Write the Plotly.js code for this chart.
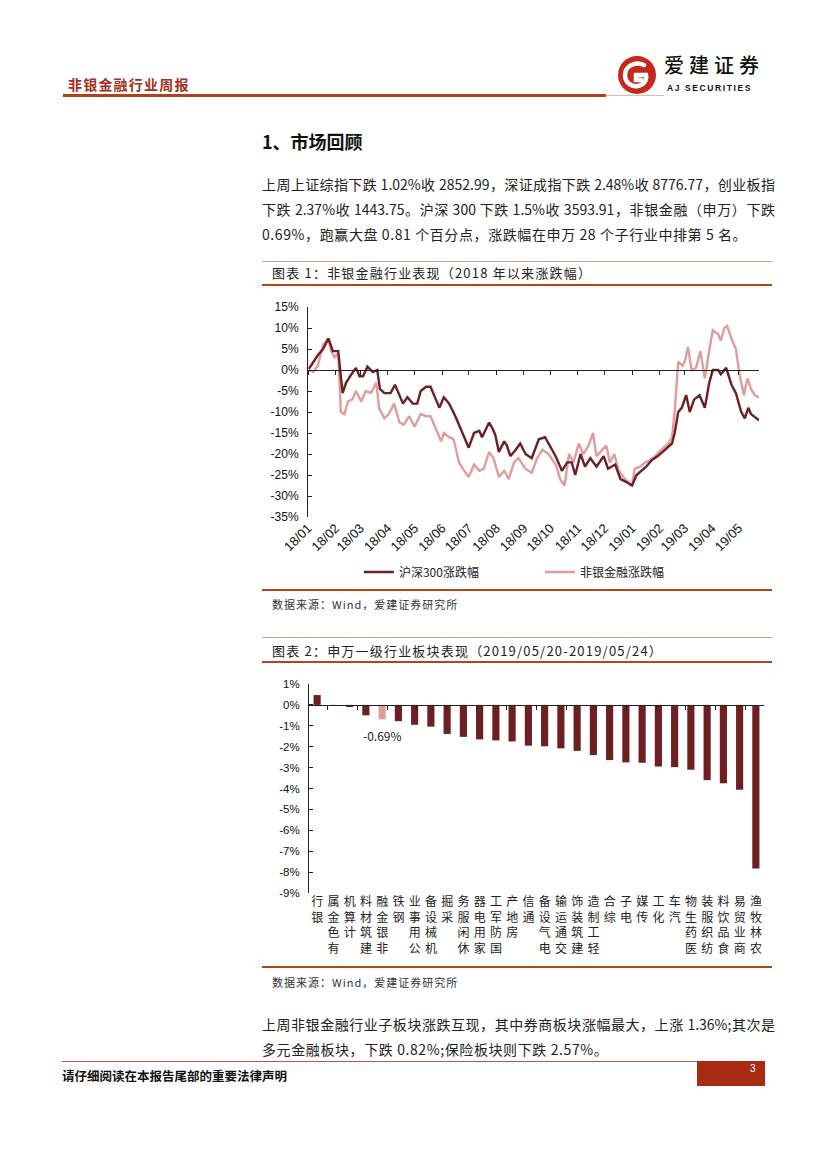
<!DOCTYPE html>
<html>
<head>
<meta charset="utf-8">
<script src="https://cdn.plot.ly/plotly-3.0.1.min.js"></script>
<style>
  html, body { margin:0; padding:0; background:#fff; }
  body { width:827px; height:1169px; position:relative; overflow:hidden;
         font-family:"Noto Sans CJK SC","Liberation Sans",sans-serif; color:#111; }
  .abs { position:absolute; }
  .line { position:absolute; height:0; }
  .para { position:absolute; left:262px; width:513px; font-size:14px; line-height:25px; color:#222; }
  .jl { display:block; text-align:justify; text-align-last:justify; white-space:nowrap; }
  .ll { display:block; white-space:nowrap; }
  .ctitle { position:absolute; left:272px; font-size:13px; letter-spacing:1.2px; color:#222; white-space:nowrap; }
  .src { position:absolute; left:272px; font-size:11px; letter-spacing:1px; color:#333; white-space:nowrap; }
</style>
</head>
<body>

<!-- header -->
<div class="abs" style="left:68px; top:74px; font-size:14px; font-weight:700; letter-spacing:1.2px; color:#A2301E; white-space:nowrap;">非银金融行业周报</div>
<div class="line" style="left:63px; top:94px; width:543px; border-top:3px solid #B0401E;"></div>
<div class="line" style="left:606px; top:95px; width:58px; border-top:1px solid #E6B8A8;"></div>
<svg class="abs" style="left:615px; top:53px;" width="44" height="44" viewBox="0 0 44 44">
  <circle cx="22" cy="22" r="19" fill="#C7281E"/>
  <path d="M29 12 C20 8 10 13 10 22 C10 30 17 34 23 33 C29 32 32 27 31 22 L21 22 L21 27 L26 27" fill="none" stroke="#fff" stroke-width="4.5" stroke-linecap="round"/>
</svg>
<div class="abs" style="left:664px; top:52px; font-size:20px; line-height:26px; font-weight:500; letter-spacing:5px; color:#111; white-space:nowrap;">爱建证券</div>
<div class="abs" style="left:667px; top:83px; font-family:'Liberation Sans',Arial,sans-serif; font-size:8.5px; line-height:10px; font-weight:700; letter-spacing:1.6px; color:#111; white-space:nowrap;">AJ SECURITIES</div>

<!-- section heading -->
<div class="abs" style="left:262px; top:128px; font-size:18px; font-weight:700; color:#111; white-space:nowrap;">1、市场回顾</div>

<div class="para" style="top:172px;">
  <span class="jl">上周上证综指下跌 1.02%收 2852.99，深证成指下跌 2.48%收 8776.77，创业板指</span>
  <span class="jl">下跌 2.37%收 1443.75。沪深 300 下跌 1.5%收 3593.91，非银金融（申万）下跌</span>
  <span class="ll" style="letter-spacing:0.6px;">0.69%，跑赢大盘 0.81 个百分点，涨跌幅在申万 28 个子行业中排第 5 名。</span>
</div>

<!-- chart 1 frame -->
<div class="line" style="left:262px; top:261px; width:510px; border-top:1px solid #C9A091;"></div>
<div class="ctitle" style="top:263px;">图表 1：非银金融行业表现（2018 年以来涨跌幅）</div>
<div class="line" style="left:262px; top:284px; width:510px; border-top:2px solid #B5431F;"></div>
<div id="chart1" class="abs" style="left:262px; top:290px; width:510px; height:295px;"></div>
<div class="line" style="left:262px; top:589px; width:510px; border-top:2px solid #B5431F;"></div>
<div class="src" style="top:596px;">数据来源：Wind，爱建证券研究所</div>

<!-- chart 2 frame -->
<div class="line" style="left:262px; top:637px; width:510px; border-top:1px solid #C9A091;"></div>
<div class="ctitle" style="top:641px;">图表 2：申万一级行业板块表现（2019/05/20-2019/05/24）</div>
<div class="line" style="left:262px; top:661px; width:510px; border-top:2px solid #B5431F;"></div>
<div id="chart2" class="abs" style="left:262px; top:670px; width:510px; height:295px;"></div>
<div class="line" style="left:262px; top:966px; width:510px; border-top:2px solid #B5431F;"></div>
<div class="src" style="top:974px;">数据来源：Wind，爱建证券研究所</div>

<div class="para" style="top:1012px;">
  <span class="jl">上周非银金融行业子板块涨跌互现，其中券商板块涨幅最大，上涨 1.36%;其次是</span>
  <span class="ll" style="letter-spacing:0.6px;">多元金融板块，下跌 0.82%;保险板块则下跌 2.57%。</span>
</div>

<!-- footer -->
<div class="line" style="left:62px; top:1061px; width:635px; border-top:1px solid #C85050;"></div>
<div class="abs" style="left:62px; top:1066px; font-size:12.5px; font-weight:700; color:#111; white-space:nowrap;">请仔细阅读在本报告尾部的重要法律声明</div>
<div class="abs" style="left:697px; top:1061px; width:68px; height:25px; background:#A82B12;"></div>
<div class="abs" style="left:750px; top:1063px; font-family:'Liberation Sans',Arial,sans-serif; font-size:10px; color:#fff;">3</div>

<script>
// ---------------- Chart 1 data ----------------
const monthTicks = ['2018-01-01','2018-02-01','2018-03-01','2018-04-01','2018-05-01','2018-06-01','2018-07-01','2018-08-01','2018-09-01','2018-10-01','2018-11-01','2018-12-01','2019-01-01','2019-02-01','2019-03-01','2019-04-01','2019-05-01'];
const monthLabels = ['18/01','18/02','18/03','18/04','18/05','18/06','18/07','18/08','18/09','18/10','18/11','18/12','19/01','19/02','19/03','19/04','19/05'];

const hs300Dates = [
 '2018-01-02','2018-01-07','2018-01-12','2018-01-18','2018-01-24','2018-01-29',
 '2018-02-04','2018-02-09','2018-02-13','2018-02-19','2018-02-24','2018-02-28',
 '2018-03-04','2018-03-09','2018-03-15','2018-03-20','2018-03-23','2018-03-28',
 '2018-04-04','2018-04-09','2018-04-14','2018-04-18','2018-04-23','2018-04-29',
 '2018-05-04','2018-05-08','2018-05-14','2018-05-19','2018-05-25','2018-05-29',
 '2018-06-03','2018-06-09','2018-06-16','2018-06-20','2018-06-26',
 '2018-07-01','2018-07-07','2018-07-13','2018-07-16','2018-07-24','2018-07-28','2018-07-31',
 '2018-08-04','2018-08-10','2018-08-13','2018-08-17','2018-08-23','2018-08-28',
 '2018-09-03','2018-09-10','2018-09-18','2018-09-25',
 '2018-10-03','2018-10-08','2018-10-14','2018-10-20','2018-10-25','2018-10-29',
 '2018-11-04','2018-11-09','2018-11-15','2018-11-22','2018-11-30',
 '2018-12-05','2018-12-13','2018-12-19','2018-12-24',
 '2019-01-01','2019-01-06','2019-01-12','2019-01-17','2019-01-23','2019-01-30',
 '2019-02-07','2019-02-15','2019-02-18','2019-02-22','2019-02-26',
 '2019-03-03','2019-03-07','2019-03-12','2019-03-18','2019-03-24','2019-03-29',
 '2019-04-02','2019-04-08','2019-04-11','2019-04-17','2019-04-23','2019-04-28',
 '2019-05-04','2019-05-08','2019-05-12','2019-05-15','2019-05-24'];
const hs300Values = [
 0.3,2,3.5,5,7.5,4.5,
 4.5,-5.5,-3,-1,0.5,-1.5,
 -1.5,0.8,-0.5,0,-4.5,-5.5,
 -5.5,-3.5,-6,-8,-6.5,-8,
 -8,-5,-4,-4,-7,-9,
 -6.5,-8,-11,-13,-16,
 -18.5,-15,-14.5,-16,-12.5,-14,-15.5,
 -19.5,-17,-18,-20.5,-19,-17.5,
 -20,-21,-16.5,-16,
 -19,-21,-24,-22,-22,-25,
 -20,-23,-21,-23,-20.5,
 -23.5,-22.5,-26,-26.5,
 -27.5,-25,-24,-23,-21.5,-20.5,
 -19,-17.5,-15,-10,-9,
 -6,-10,-7,-6,-9,-3,
 0,0,-1,0.5,-3.5,-5.5,
 -10,-11.5,-9,-10.5,-12];

const finDates = [
 '2018-01-02','2018-01-07','2018-01-12','2018-01-18','2018-01-24','2018-01-27','2018-01-31',
 '2018-02-04','2018-02-07','2018-02-11','2018-02-15','2018-02-20','2018-02-24',
 '2018-03-02','2018-03-07','2018-03-13','2018-03-19','2018-03-22','2018-03-28',
 '2018-04-02','2018-04-08','2018-04-14','2018-04-19','2018-04-25',
 '2018-05-01','2018-05-08','2018-05-14','2018-05-19','2018-05-25','2018-05-31',
 '2018-06-03','2018-06-09','2018-06-14','2018-06-20','2018-06-26',
 '2018-07-01','2018-07-07','2018-07-13','2018-07-18','2018-07-24','2018-07-29',
 '2018-08-04','2018-08-10','2018-08-15','2018-08-21','2018-08-26',
 '2018-09-03','2018-09-10','2018-09-16','2018-09-22','2018-09-29',
 '2018-10-07','2018-10-12','2018-10-17','2018-10-22','2018-10-27',
 '2018-11-02','2018-11-07','2018-11-13','2018-11-18','2018-11-22','2018-11-28',
 '2018-12-03','2018-12-07','2018-12-12','2018-12-17','2018-12-24',
 '2019-01-01','2019-01-04','2019-01-10','2019-01-16','2019-01-21','2019-01-27',
 '2019-02-03','2019-02-11','2019-02-15','2019-02-18','2019-02-22','2019-02-27',
 '2019-03-02','2019-03-05','2019-03-09','2019-03-14','2019-03-19','2019-03-24','2019-03-28',
 '2019-04-02','2019-04-08','2019-04-11','2019-04-15','2019-04-18','2019-04-23','2019-04-28',
 '2019-05-02','2019-05-07','2019-05-11','2019-05-15','2019-05-19','2019-05-24'];
const finValues = [
 0,-0.5,1,6,7.5,4.5,3,
 4,-10,-10.5,-7.5,-7,-5,
 -7.5,-5,-5.5,-3,-9,-11.5,
 -10.5,-8,-12.5,-13,-11,
 -13.5,-10.5,-11,-11,-14,-17,
 -15,-16,-16.5,-22,-24,
 -25.5,-22.5,-24,-23.5,-19.5,-21,
 -25.5,-24,-26,-22,-21,
 -23.5,-24.5,-21,-19,-20,
 -22.5,-26,-27.5,-20,-22,
 -17.5,-20,-18,-15,-20.5,-19,
 -18,-22,-20,-24,-26,
 -27.5,-23.5,-23,-22,-21.5,-20.5,
 -19,-17.5,-16,-10,2,1,
 2.5,5.5,0,0.5,4.5,-2,3.5,
 9.5,8.5,7,10,10.5,7.5,5,
 -1,-6,-2,-4.5,-6,-6.5];

const seriesNames = ['沪深300涨跌幅','非银金融涨跌幅'];
const yTicks1 = [15,10,5,0,-5,-10,-15,-20,-25,-30,-35];

// ---------------- Chart 2 data ----------------
const industries = ['银行','有色金属','计算机','建筑材料','非银金融','钢铁','公用事业','机械设备','采掘','休闲服务','家用电器','国防军工','房地产','通信','电气设备','交通运输','建筑装饰','轻工制造','综合','电子','传媒','化工','汽车','医药生物','纺织服装','食品饮料','商业贸易','农林牧渔'];
const weeklyChange = [0.47,-0.03,-0.1,-0.5,-0.69,-0.78,-0.95,-1.04,-1.39,-1.53,-1.65,-1.7,-1.75,-1.95,-1.98,-2.08,-2.2,-2.4,-2.64,-2.75,-2.77,-2.95,-2.98,-3.1,-3.6,-3.75,-4.06,-7.83];
const highlight = '非银金融';
const yTicks2 = [1,0,-1,-2,-3,-4,-5,-6,-7,-8,-9];

// ---------------- styles ----------------
const DARK = '#6C2024';
const PINK = '#E29C9C';
const LATIN = '"Liberation Sans", Arial, sans-serif';
const CJK = '"Noto Sans CJK SC", "Liberation Sans", sans-serif';
const cfg = {staticPlot:true, displayModeBar:false};

function pctText(v){ return (v < 0 ? '-' : '') + Math.abs(v) + '%'; }

// ---- Chart 1 ----
(function(){
  const y1Min = -35, y1Max = 15;
  const zeroPos1 = (0 - y1Min) / (y1Max - y1Min);
  const xRange1 = ['2018-01-01','2019-05-24'];

  const tFin = {x: finDates, y: finValues, name: seriesNames[1], type:'scatter', mode:'lines',
                line:{color:PINK, width:2.4}, hoverinfo:'skip', legend:'legend2'};
  const tHs = {x: hs300Dates, y: hs300Values, name: seriesNames[0], type:'scatter', mode:'lines',
               line:{color:DARK, width:2.4}, hoverinfo:'skip', legend:'legend'};
  const helper = {x: monthTicks, y: monthTicks.map(() => 0), xaxis:'x2', type:'scatter', mode:'markers',
                  marker:{opacity:0, size:1}, showlegend:false, hoverinfo:'skip'};

  const legendBase = {orientation:'h', xref:'container', yref:'container',
            xanchor:'left', y:0.044, yanchor:'middle', itemwidth:30,
            font:{family:CJK, size:12, color:'#222'}, bgcolor:'rgba(0,0,0,0)'};

  const layout1 = {
    width:510, height:295,
    margin:{l:46, r:13, t:17, b:68},
    paper_bgcolor:'#fff', plot_bgcolor:'rgba(0,0,0,0)',
    showlegend:true,
    legend:Object.assign({}, legendBase, {x:0.19}),
    legend2:Object.assign({}, legendBase, {x:0.545}),
    xaxis:{type:'date', range:xRange1, tickvals:monthTicks, ticktext:monthLabels,
           tickangle:-45, tickfont:{family:LATIN, size:13, color:'#111'},
           showline:false, ticks:'', showgrid:false, zeroline:false, automargin:false},
    xaxis2:{type:'date', overlaying:'x', anchor:'free', position:zeroPos1, range:xRange1,
            tickvals:monthTicks, showticklabels:false, ticks:'outside', ticklen:4,
            tickcolor:'#222', showline:true, linecolor:'#222', linewidth:1,
            showgrid:false, zeroline:false, automargin:false},
    yaxis:{range:[y1Min, y1Max], tickvals:yTicks1, ticktext:yTicks1.map(pctText),
           tickfont:{family:LATIN, size:12, color:'#111'},
           showline:true, linecolor:'#222', linewidth:1, ticks:'inside', ticklen:4,
           tickcolor:'#222', ticklabelstandoff:6, showgrid:false, zeroline:false, automargin:false}
  };
  Plotly.newPlot('chart1', [tFin, tHs, helper], layout1, cfg);
})();

// ---- Chart 2 ----
(function(){
  const y2Min = -9, y2Max = 1;
  const zeroPos2 = (0 - y2Min) / (y2Max - y2Min);
  const stacked = industries.map(s => s.split('').reverse().join('<br>'));
  const colors = industries.map(s => s === highlight ? PINK : DARK);
  const hiIdx = industries.indexOf(highlight);

  const bars = {x: industries, y: weeklyChange, type:'bar', marker:{color:colors, line:{width:0}},
                hoverinfo:'skip', showlegend:false};
  const axisHelper = {x: industries, y: industries.map(() => 0), xaxis:'x2', type:'scatter',
                      mode:'markers', marker:{opacity:0, size:1}, showlegend:false, hoverinfo:'skip'};

  const layout2 = {
    width:510, height:295,
    margin:{l:47, r:8, t:14, b:72},
    paper_bgcolor:'#fff', plot_bgcolor:'rgba(0,0,0,0)',
    bargap:0.56,
    showlegend:false,
    xaxis:{type:'category', categoryorder:'array', categoryarray:industries,
           tickvals:industries, ticktext:stacked, tickangle:0,
           tickfont:{family:CJK, size:12, color:'#222'},
           showline:false, ticks:'', showgrid:false, zeroline:false, automargin:false},
    xaxis2:{type:'category', overlaying:'x', anchor:'free', position:zeroPos2,
            categoryorder:'array', categoryarray:industries,
            showticklabels:false, ticks:'outside', ticklen:4, tickson:'boundaries',
            tickcolor:'#222', showline:true, linecolor:'#222', linewidth:1,
            showgrid:false, zeroline:false, automargin:false},
    yaxis:{range:[y2Min, y2Max], tickvals:yTicks2, ticktext:yTicks2.map(pctText),
           tickfont:{family:LATIN, size:11.5, color:'#111'},
           showline:true, linecolor:'#222', linewidth:1, ticks:'inside', ticklen:4,
           tickcolor:'#222', ticklabelstandoff:6, showgrid:false, zeroline:false, automargin:false},
    annotations:[{x: industries[hiIdx], y: weeklyChange[hiIdx], xref:'x', yref:'y',
                  text: weeklyChange[hiIdx].toFixed(2) + '%', showarrow:false,
                  yanchor:'middle', yshift:-16,
                  font:{family:CJK, size:12, color:'#222'}}]
  };
  Plotly.newPlot('chart2', [bars, axisHelper], layout2, cfg);
})();
</script>
</body>
</html>
